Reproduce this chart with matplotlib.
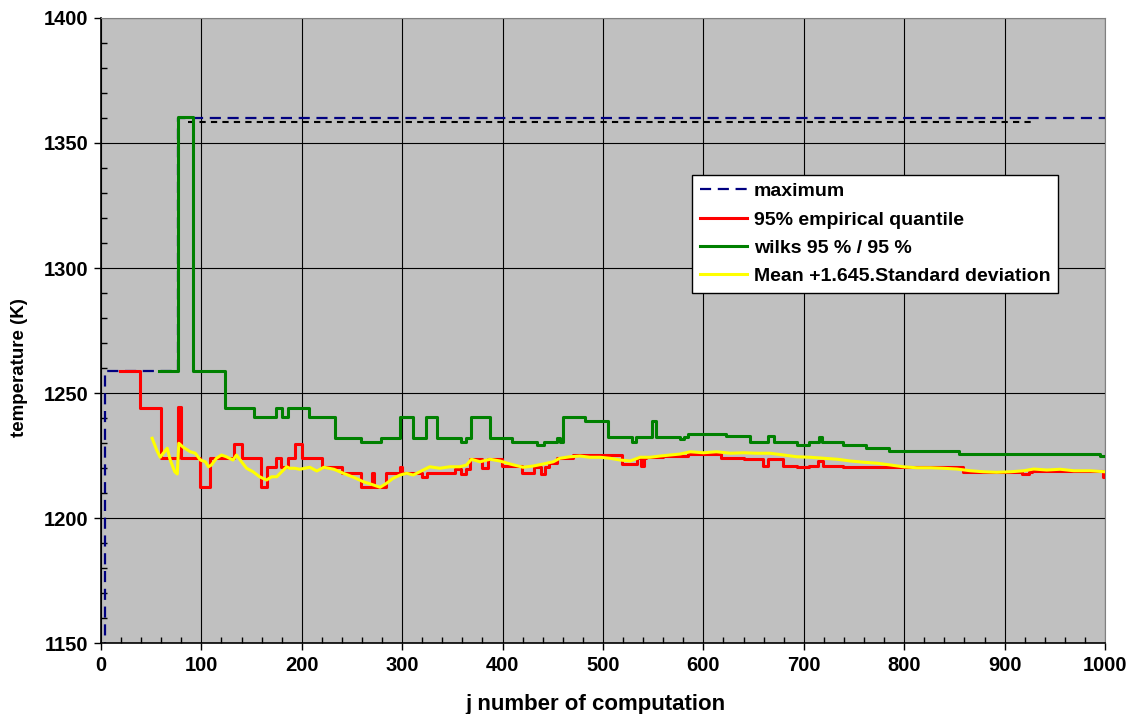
import matplotlib
matplotlib.use("Agg")
import matplotlib.pyplot as plt
from matplotlib.ticker import MultipleLocator

plt.rcParams['font.family'] = ['Liberation Sans', 'DejaVu Sans']
plt.rcParams['font.weight'] = 'bold'

# maximum (step, drawn dashed)
max_x = [1, 4, 77, 1000]
max_y = [1140, 1259, 1360, 1360]

# leftover dashed line near the top (not in legend)
ref_x = [87, 930]
ref_y = [1358.4, 1358.4]

# 95% empirical quantile (step breakpoints)
red_x = [19, 39, 59.5, 76.5, 79.5, 98.5, 109, 132.5, 140, 159, 165, 174, 179, 186.5,
         193, 200, 220, 240, 259, 270, 272, 284, 298, 300, 320, 325, 353, 359, 364, 368,
         380, 385, 399, 419, 431, 438, 442, 446, 454, 470, 518.5, 533.5, 538, 541, 543,
         560, 584.5, 618, 640, 659, 664, 679, 693, 705.5, 714.5, 719.5, 739.5, 859, 917,
         924, 927, 998, 1000]
red_y = [1258.8, 1244.1, 1224.1, 1244.5, 1224.1, 1212.3, 1224.1, 1229.6, 1224.1, 1212.3,
         1220.3, 1224.1, 1220.3, 1224.1, 1229.6, 1224.1, 1220.3, 1217.9, 1212.3, 1217.9,
         1212.3, 1218.2, 1220.3, 1218.2, 1216.3, 1217.9, 1219.6, 1217.6, 1219.6, 1223.5,
         1219.9, 1223.5, 1220.8, 1218.1, 1220.5, 1217.6, 1220.5, 1221.9, 1223.9, 1225.2,
         1221.5, 1223.9, 1220.8, 1223.9, 1224.3, 1224.9, 1225.8, 1223.9, 1223.5, 1220.9,
         1223.5, 1220.9, 1220.3, 1220.9, 1222.9, 1220.9, 1220.3, 1218.5, 1217.6, 1218.5,
         1218.8, 1216.5, 1216.5]

# wilks 95 % / 95 % (step breakpoints)
green_x = [58, 77, 92, 123.5, 152.5, 174.5, 180, 186.5, 207, 233, 259, 278.5, 298, 310.5,
           323.5, 335, 359, 363.5, 368.5, 387, 409, 434.5, 441.5, 454, 457, 460.5, 482,
           505.5, 528.5, 533, 548.5, 552.5, 577, 581, 585, 623, 646, 664, 670, 693.5,
           705.5, 715, 718, 739, 761.5, 785, 854.5, 995, 1000]
green_y = [1258.8, 1360.5, 1258.8, 1244.1, 1240.5, 1244.1, 1240.5, 1244.1, 1240.5, 1232.1,
           1230.5, 1232.1, 1240.5, 1232.1, 1240.5, 1232.1, 1230.5, 1232.1, 1240.5, 1232.1,
           1230.5, 1229.2, 1230.5, 1232.1, 1230.5, 1240.5, 1239.0, 1232.5, 1230.5, 1232.5,
           1239.0, 1232.5, 1231.5, 1232.5, 1233.8, 1232.7, 1230.5, 1232.7, 1230.5, 1229.2,
           1230.5, 1232.3, 1230.5, 1229.2, 1228.1, 1227.0, 1225.5, 1224.9, 1224.9]

# Mean + 1.645 standard deviation
yel_x = [51, 55.5, 59, 62, 66, 69, 73.5, 76, 77.5, 82, 89, 94, 99, 104, 107, 110, 115, 120,
         125, 131.5, 135, 140, 145, 151.5, 158, 165, 170, 175, 180, 185, 188, 193, 198, 208,
         215, 222, 232, 241.5, 251.5, 261.5, 271.5, 278, 284.5, 291, 298, 304.5, 311, 317.5,
         327.5, 337.5, 347.5, 357.5, 364, 369, 377.5, 387.5, 397.5, 407.5, 420.5, 430.5,
         440.5, 450.5, 457, 467, 477, 487, 497, 507, 517, 527, 537, 547, 557, 567, 577, 587,
         600, 613, 627, 640, 653, 666.5, 680, 693, 706.5, 720, 733.5, 746.5, 760, 773.5,
         786.5, 799, 812.5, 826, 839, 852.5, 866, 879, 892, 906, 919, 929, 942, 955.5, 969,
         985.5, 1000]
yel_y = [1231.9, 1227.2, 1224.3, 1225.9, 1227.9, 1223.2, 1218.5, 1217.6, 1229.9, 1228.3,
         1226.5, 1225.9, 1223.2, 1222.5, 1220.5, 1221.2, 1223.9, 1225.2, 1224.5, 1223.2,
         1225.2, 1222.5, 1219.9, 1218.5, 1216.5, 1215.2, 1216.5, 1216.5, 1218.5, 1220.5,
         1219.9, 1219.9, 1219.5, 1220.3, 1218.8, 1220.3, 1219.5, 1217.9, 1216.3, 1214.5,
         1213.2, 1212.3, 1213.9, 1215.9, 1217.2, 1217.9, 1217.2, 1218.5, 1220.5, 1219.9,
         1220.5, 1220.5, 1221.2, 1223.5, 1222.5, 1223.5, 1222.8, 1221.6, 1220.3, 1220.8,
         1221.6, 1222.5, 1223.9, 1224.5, 1224.8, 1224.3, 1224.3, 1223.9, 1223.2, 1222.8,
         1224.3, 1224.3, 1224.8, 1225.2, 1225.6, 1226.5, 1226.1, 1226.5, 1225.9, 1226.1,
         1225.9, 1225.9, 1225.2, 1224.5, 1224.3, 1223.9, 1223.5, 1222.8, 1222.3, 1221.9,
         1221.2, 1220.5, 1220.1, 1220.1, 1219.9, 1219.6, 1218.9, 1218.5, 1218.3, 1218.5,
         1218.9, 1219.6, 1219.2, 1219.5, 1218.9, 1218.9, 1218.5]

fig = plt.figure(figsize=(11.28, 7.14), dpi=100)
ax = fig.add_axes([0.0895, 0.0994, 0.8901, 0.8754])
ax.set_facecolor('#C0C0C0')

ax.plot(max_x, max_y, color='#000080', lw=1.6, dashes=(5, 3), drawstyle='steps-post',
        label='maximum', zorder=2)
ax.plot(ref_x, ref_y, color='black', lw=1.5, dashes=(3, 2.5), zorder=2)
ax.plot(red_x, red_y, color='#FF0000', lw=2.2, drawstyle='steps-post',
        label='95% empirical quantile', zorder=3)
ax.plot(green_x, green_y, color='#008000', lw=2.2, drawstyle='steps-post',
        label='wilks 95 % / 95 %', zorder=3)
ax.plot(yel_x, yel_y, color='#FFFF00', lw=2.2, label='Mean +1.645.Standard deviation', zorder=4)

ax.set_xlim(0, 1000)
ax.set_ylim(1150, 1400)
ax.xaxis.set_major_locator(MultipleLocator(100))
ax.xaxis.set_minor_locator(MultipleLocator(20))
ax.yaxis.set_major_locator(MultipleLocator(50))
ax.yaxis.set_minor_locator(MultipleLocator(10))
ax.grid(True, which='major', color='black', lw=0.8, zorder=1)
ax.set_axisbelow(True)

ax.tick_params(which='major', direction='out', length=5, width=1, labelsize=14.5, pad=4)
ax.tick_params(which='minor', direction='in', length=4, width=1)
for lbl in ax.get_xticklabels() + ax.get_yticklabels():
    lbl.set_fontweight('bold')

for side in ['top', 'right']:
    ax.spines[side].set_color('#808080')
for side in ['left', 'bottom']:
    ax.spines[side].set_color('black')
    ax.spines[side].set_linewidth(1.2)

# axis titles placed where the original has them (y title sits a bit low)
ax.set_xlabel('j number of computation', fontsize=16, fontweight='bold', va='center')
ax.xaxis.set_label_coords(0.492, -0.098)
ax.set_ylabel('temperature (K)', fontsize=13.5, fontweight='bold', va='center', ha='center')
ax.yaxis.set_label_coords(-0.081, 0.44)

leg = ax.legend(loc='upper left', bbox_to_anchor=(0.589, 0.749), fontsize=14,
                frameon=True, fancybox=False, framealpha=1, edgecolor='black',
                handlelength=2.4, handletextpad=0.35, labelspacing=0.55,
                borderpad=0.4, borderaxespad=0)
leg.get_frame().set_linewidth(1)
for t in leg.get_texts():
    t.set_fontweight('bold')

fig.savefig('out.png', dpi=100)
